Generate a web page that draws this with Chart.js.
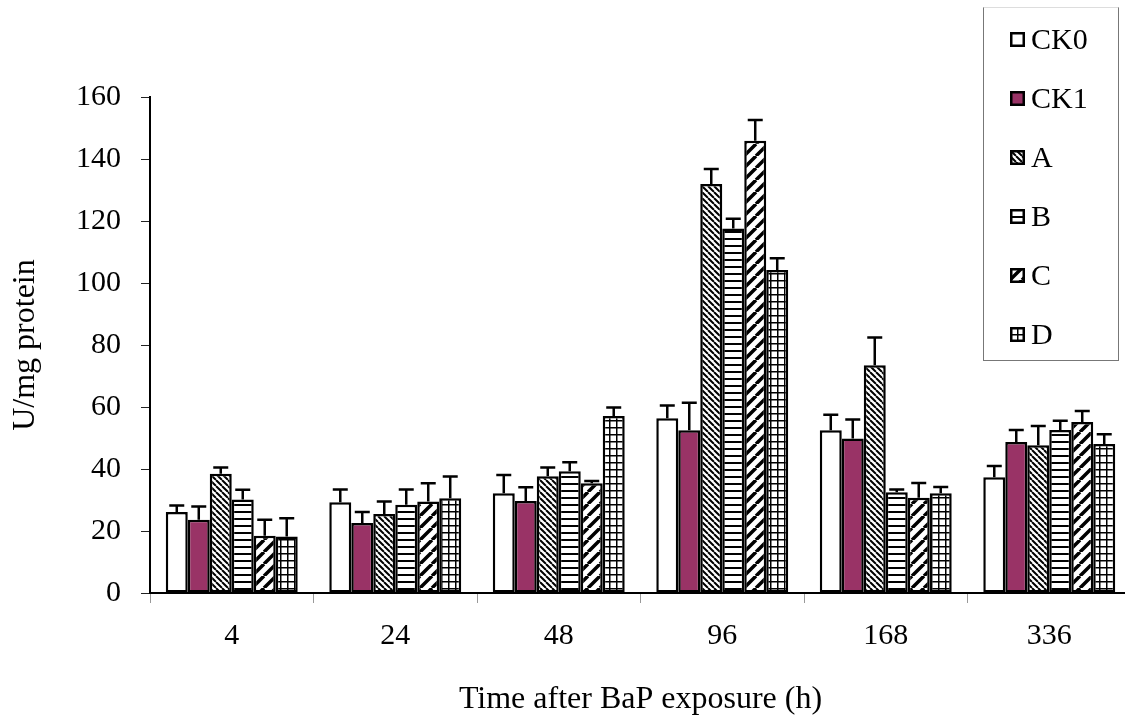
<!DOCTYPE html>
<html>
<head>
<meta charset="utf-8">
<script src="https://cdn.jsdelivr.net/npm/chart.js@4.4.0/dist/chart.umd.min.js"></script>
<style>
  html, body { margin: 0; padding: 0; background: #fff; overflow: hidden; }
  #wrap { position: relative; width: 1125px; height: 719px; overflow: hidden; }
  #grafico { position: absolute; left: 0; top: 0; }
  #legenda {
    position: absolute; left: 983px; top: 7px; width: 134px; height: 352px;
    border: 1.5px solid #777; border-top-color: #ddd; background: #fff;
    font-family: 'Liberation Serif', 'Times New Roman', serif; font-size: 30px; color: #000;
  }
  .item { position: absolute; left: 26px; height: 34px; display: flex; align-items: center; }
  .item canvas { margin-right: 6px; }
</style>
</head>
<body>
<div id="wrap">
  <canvas id="grafico" width="1140" height="719"></canvas>
  <div id="legenda"></div>
</div>
<script>
const hours = ['4', '24', '48', '96', '168', '336']
const seriesNames = ['CK0', 'CK1', 'A', 'B', 'C', 'D']

// means (U/mg protein)
const ck0 = [26.1, 29.3, 32.2, 56.4, 52.5, 37.3]
const ck1 = [23.6, 22.6, 29.7, 52.5, 49.8, 48.7]
const trtA = [38.5, 25.5, 37.7, 131.9, 73.5, 47.7]
const trtB = [30.2, 28.5, 39.3, 117.6, 32.5, 52.6]
const trtC = [18.5, 29.5, 35.4, 145.9, 30.7, 55.2]
const trtD = [18.2, 30.6, 57.1, 104.2, 32.2, 48.1]

// upper error bars
const sdCk0 = [2.1, 4.1, 5.9, 4.1, 5.0, 3.7]
const sdCk1 = [4.3, 3.5, 4.4, 8.9, 6.2, 3.9]
const sdA = [2.0, 4.0, 2.8, 4.9, 8.9, 6.2]
const sdB = [3.1, 4.9, 2.9, 3.1, 0.9, 3.0]
const sdC = [5.1, 5.9, 0.7, 6.7, 4.8, 3.5]
const sdD = [5.9, 7.0, 2.7, 3.8, 2.0, 3.1]

const yMin = 0
const yMax = 160
const yStep = 20

const FONTE = "'Liberation Serif', 'Times New Roman', serif"

function padrao(size, draw) {
  const c = document.createElement('canvas')
  c.width = size
  c.height = size
  const ctx = c.getContext('2d')
  ctx.fillStyle = '#fff'
  ctx.fillRect(0, 0, size, size)
  ctx.strokeStyle = '#000'
  ctx.fillStyle = '#000'
  draw(ctx, size)
  return ctx.createPattern(c, 'repeat')
}

// "\\" fine diagonals
const padA = padrao(6, (ctx, s) => {
  ctx.lineWidth = 2
  ctx.beginPath()
  ;[-s, 0, s].forEach(k => { ctx.moveTo(k, 0); ctx.lineTo(k + s, s) })
  ctx.stroke()
})

// horizontal lines
const padB = padrao(7, (ctx, s) => {
  ctx.fillRect(0, 0, s, 2)
})

// "/" wide diagonals
const padC = padrao(12, (ctx, s) => {
  ctx.lineWidth = 3.5
  ctx.beginPath()
  ;[-s, 0, s].forEach(k => { ctx.moveTo(k, s); ctx.lineTo(k + s, 0) })
  ctx.stroke()
})

// grid
const padD = padrao(7, (ctx, s) => {
  ctx.fillRect(0, 0, s, 1.5)
  ctx.fillRect(0, 0, 1.5, s)
})

const cores = ['#ffffff', '#993366', padA, padB, padC, padD]
const valores = [ck0, ck1, trtA, trtB, trtC, trtD]
const desvios = [sdCk0, sdCk1, sdA, sdB, sdC, sdD]

const errorBars = {
  id: 'errorBars',
  afterDatasetsDraw(chart) {
    const { ctx, scales: { y } } = chart
    ctx.save()
    ctx.strokeStyle = '#000'
    ctx.lineWidth = 2.5
    chart.data.datasets.forEach((ds, i) => {
      chart.getDatasetMeta(i).data.forEach((bar, j) => {
        const topo = y.getPixelForValue(ds.data[j])
        const fim = y.getPixelForValue(ds.data[j] + ds.sd[j])
        ctx.beginPath()
        ctx.moveTo(bar.x, topo)
        ctx.lineTo(bar.x, fim)
        ctx.moveTo(bar.x - 7.5, fim)
        ctx.lineTo(bar.x + 7.5, fim)
        ctx.stroke()
      })
    })
    ctx.restore()
  }
}

const chart = new Chart(document.getElementById('grafico').getContext('2d'), {
  type: 'bar',
  data: {
    labels: hours,
    datasets: seriesNames.map((nome, i) => ({
      label: nome,
      data: valores[i],
      sd: desvios[i],
      backgroundColor: cores[i],
      borderColor: '#000',
      borderWidth: 2.5,
      borderSkipped: false,
      categoryPercentage: 0.807,
      barPercentage: 1.0
    }))
  },
  options: {
    responsive: false,
    animation: false,
    devicePixelRatio: 1,
    layout: { padding: { left: 0, top: 97, right: 9, bottom: 0 } },
    plugins: { legend: { display: false }, tooltip: { enabled: false } },
    scales: {
      x: {
        afterFit: s => { s.height = 126 },
        grid: { offset: true, drawOnChartArea: false, drawTicks: true, tickLength: 10, color: '#999', lineWidth: 1 },
        border: { display: true, color: '#000', width: 2 },
        ticks: { color: '#000', font: { family: FONTE, size: 30 }, padding: 15 },
        title: { display: true, text: 'Time after BaP exposure (h)', color: '#000', font: { family: FONTE, size: 32 }, padding: { top: 0, bottom: 0 } }
      },
      y: {
        min: yMin,
        max: yMax,
        afterFit: s => { s.width = 150 },
        grid: { drawOnChartArea: false, drawTicks: true, tickLength: 9, color: '#222', lineWidth: 1 },
        border: { display: true, color: '#000', width: 2 },
        ticks: { stepSize: yStep, color: '#000', font: { family: FONTE, size: 30 }, padding: 20 },
        title: { display: true, text: 'U/mg protein', color: '#000', font: { family: FONTE, size: 32 }, padding: { top: 6, bottom: 0 } }
      }
    }
  },
  plugins: [errorBars]
})

function montarLegenda() {
  const box = document.getElementById('legenda')
  chart.data.datasets.forEach((ds, i) => {
    const item = document.createElement('div')
    item.className = 'item'
    item.style.top = (31 + i * 59 - 17) + 'px'
    const sw = document.createElement('canvas')
    sw.width = 15
    sw.height = 15
    const c = sw.getContext('2d')
    c.fillStyle = ds.backgroundColor
    c.fillRect(0, 0, 15, 15)
    c.strokeStyle = '#000'
    c.lineWidth = 2.5
    c.strokeRect(1.25, 1.25, 12.5, 12.5)
    const txt = document.createElement('span')
    txt.textContent = ds.label
    item.appendChild(sw)
    item.appendChild(txt)
    box.appendChild(item)
  })
}

montarLegenda()
</script>
</body>
</html>
